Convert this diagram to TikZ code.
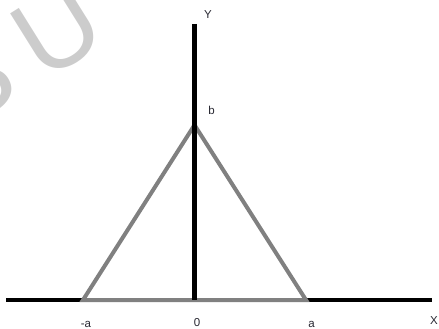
\documentclass[tikz,border=0pt]{standalone}
\usepackage{fontspec}
\setmainfont{Liberation Sans}
\begin{document}
\begin{tikzpicture}[x=1pt,y=-1pt,
  axis/.style={line width=4.5pt,black},
  tri/.style={line width=4pt,color={rgb,255:red,128;green,128;blue,128},line join=miter},
  lbl/.style={font=\fontsize{11.5}{13}\selectfont,text={rgb,255:red,40;green,40;blue,50},inner sep=0pt}]
\useasboundingbox (0,0) rectangle (439,329);
\begin{scope}
\clip (0,0) rectangle (439,329);
\node[rotate=32,font=\fontsize{110}{110}\selectfont,text={rgb,255:red,204;green,204;blue,204},anchor=base west,inner sep=0pt] (wm) at (-38,133) {B\hspace{22pt}U};
\end{scope}
\coordinate (xl) at (6,300);
\coordinate (xr) at (432,300);
\coordinate (yt) at (194.5,24);
\coordinate (o) at (194.5,300);
\coordinate (l) at (83,300);
\coordinate (r) at (306,300);
\coordinate (apex) at (194.5,125);
\draw[axis] (xl) -- (xr);
\draw[tri] (l) -- (apex) -- (r) -- cycle;
\draw[line width=3pt,color={rgb,255:red,128;green,128;blue,128}] (l) -- (r);
\draw[axis] (yt) -- (o);
\node[lbl] (ylab) at (208,15) {Y};
\node[lbl] (blab) at (211.5,110) {b};
\node[lbl] (malab) at (86,324) {-a};
\node[lbl] (zlab) at (197,323) {0};
\node[lbl] (alab) at (311.5,324) {a};
\node[lbl] (xlab) at (434,321) {X};
\end{tikzpicture}
\end{document}
